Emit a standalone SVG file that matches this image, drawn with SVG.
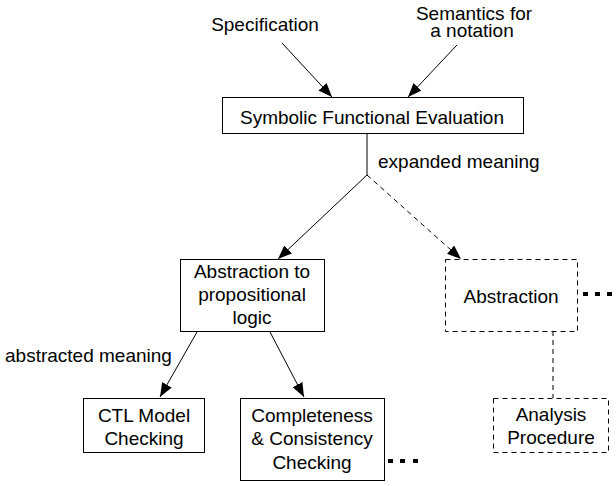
<svg xmlns="http://www.w3.org/2000/svg" width="616" height="486" viewBox="0 0 616 486">
<style>
text{font-family:"Liberation Sans",Arial,sans-serif;font-size:19px;fill:#000}
.c{text-anchor:middle}
.box{fill:#fff;stroke:#000;stroke-width:1}
.dbox{fill:#fff;stroke:#000;stroke-width:1;stroke-dasharray:5,4}
.ln{stroke:#000;stroke-width:1;fill:none}
.dln{stroke:#000;stroke-width:1;fill:none;stroke-dasharray:5,4}
.dot{fill:#000}
</style>
<defs>
<marker id="ah" markerUnits="userSpaceOnUse" markerWidth="14" markerHeight="11" refX="14" refY="5.5" orient="auto">
<path d="M0,0 L14,5.5 L0,11 z" fill="#000"/>
</marker>
</defs>
<g id="connectors">
<line class="ln" x1="282" y1="43" x2="332" y2="97" marker-end="url(#ah)"/>
<line class="ln" x1="457" y1="45" x2="408" y2="97" marker-end="url(#ah)"/>
<polyline class="ln" points="367,134 367,175"/>
<line class="ln" x1="367" y1="175" x2="278" y2="259" marker-end="url(#ah)"/>
<line class="dln" x1="367" y1="175" x2="461" y2="259" marker-end="url(#ah)"/>
<line class="ln" x1="197" y1="332" x2="160" y2="397" marker-end="url(#ah)"/>
<line class="ln" x1="270" y1="332" x2="304" y2="397" marker-end="url(#ah)"/>
<line class="dln" x1="553" y1="331" x2="553" y2="398"/>
<text x="378" y="168">expanded meaning</text>
<text x="5" y="362">abstracted meaning</text>
</g>
<g id="specification">
<text class="c" x="265" y="31">Specification</text>
</g>
<g id="semantics">
<text class="c" x="474" y="20">Semantics for</text>
<text class="c" x="472" y="37">a notation</text>
</g>
<g id="sfe">
<rect class="box" x="222.5" y="97.5" width="301" height="36"/>
<text class="c" x="372" y="124">Symbolic Functional Evaluation</text>
</g>
<g id="abs-prop">
<rect class="box" x="180.5" y="259.5" width="144" height="72"/>
<text class="c" x="252" y="278">Abstraction to</text>
<text class="c" x="252" y="301">propositional</text>
<text class="c" x="252" y="324">logic</text>
</g>
<g id="abstraction">
<rect class="dbox" x="445.5" y="259.5" width="132" height="72"/>
<text class="c" x="511" y="303">Abstraction</text>
<rect class="dot" x="583" y="292" width="5" height="4"/>
<rect class="dot" x="595" y="292" width="5" height="4"/>
<rect class="dot" x="607" y="292" width="5" height="4"/>
</g>
<g id="ctl">
<rect class="box" x="83.5" y="398.5" width="121" height="54"/>
<text class="c" x="144" y="422">CTL Model</text>
<text class="c" x="144" y="445">Checking</text>
</g>
<g id="completeness">
<rect class="box" x="240.5" y="398.5" width="144" height="82"/>
<text class="c" x="312" y="422">Completeness</text>
<text class="c" x="312" y="445">&amp; Consistency</text>
<text class="c" x="312" y="469">Checking</text>
<rect class="dot" x="388" y="459" width="5" height="4"/>
<rect class="dot" x="400" y="459" width="5" height="4"/>
<rect class="dot" x="413" y="459" width="5" height="4"/>
</g>
<g id="analysis">
<rect class="dbox" x="493.5" y="398.5" width="115" height="54"/>
<text class="c" x="551" y="421">Analysis</text>
<text class="c" x="551" y="444">Procedure</text>
</g>
</svg>
